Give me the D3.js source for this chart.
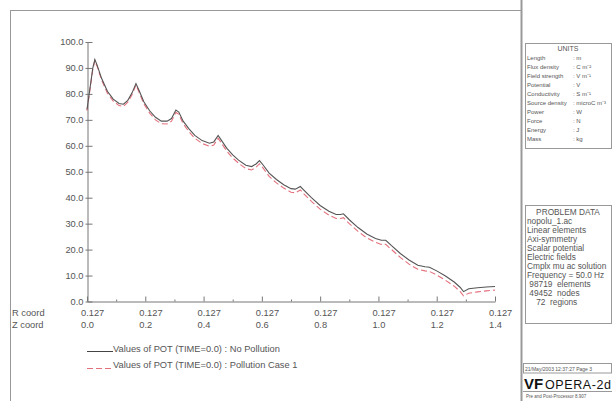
<!DOCTYPE html>
<html lang="en">
<head>
<meta charset="UTF-8">
<title>Values of POT along line</title>
<script src="https://d3js.org/d3.v7.min.js"></script>
<style>
    body { margin: 0; background: #fff; }
    svg { display: block; font-family: "Liberation Sans", Arial, sans-serif; }
    .axis path, .axis line { stroke: #777; }
    .axis text { fill: #555; font-size: 9.3px; }
    .lbl { fill: #555; font-size: 9.3px; }
    .panel { fill: none; stroke: #999; stroke-width: 1; }
    .small { fill: #555; font-size: 6px; }
    .mid { fill: #555; font-size: 8.3px; }
</style>
</head>
<body>
<svg width="612" height="401"></svg>
<script>
    // distance along the line (Z coord), R coord stays 0.127
    const zCoord = [0.000, 0.010, 0.020, 0.027, 0.035, 0.050, 0.070, 0.090, 0.110, 0.125,
        0.140, 0.155, 0.168, 0.178, 0.195, 0.215, 0.235, 0.255, 0.275, 0.290,
        0.305, 0.315, 0.330, 0.350, 0.370, 0.395, 0.420, 0.435, 0.450, 0.462,
        0.480, 0.500, 0.520, 0.545, 0.565, 0.580, 0.592, 0.605, 0.625, 0.650,
        0.675, 0.700, 0.715, 0.732, 0.745, 0.770, 0.800, 0.830, 0.855, 0.870,
        0.880, 0.900, 0.930, 0.960, 0.990, 1.010, 1.025, 1.045, 1.075, 1.105,
        1.135, 1.160, 1.175, 1.200, 1.230, 1.260, 1.280, 1.292, 1.310, 1.340,
        1.370, 1.400];

    const potNoPollution = [74, 82, 90, 93.2, 91, 86, 81, 78, 76.3, 76,
        77.5, 80.5, 84, 81.5, 77, 73.5, 71, 69.5, 69.5, 70.5,
        73.8, 73, 69.5, 66.5, 64, 62, 61, 61.5, 64, 62,
        59, 56.5, 54.5, 52.5, 52, 53, 54.3, 52.5, 49.5, 47,
        45, 43.5, 43.3, 44.3, 42.8, 40, 37, 34.8, 33.5, 33.5,
        33.8, 31.5, 28.5, 26, 24.3, 23.6, 23.6, 21.5, 18.5, 16,
        14, 13.4, 13.2, 11.8, 9.8, 7.5, 5.5, 3.8, 4.9, 5.3,
        5.6, 5.8];

    const potPollution = [73.5, 81.5, 89.6, 92.8, 90.5, 85.4, 80.3, 77.2, 75.5, 75.2,
        76.8, 79.8, 83.4, 80.8, 76.2, 72.6, 70, 68.5, 68.4, 69.5,
        72.9, 72.1, 68.5, 65.4, 62.9, 60.9, 59.8, 60.3, 62.9, 60.9,
        57.9, 55.3, 53.3, 51.2, 50.7, 51.7, 53.1, 51.3, 48.2, 45.7,
        43.7, 42.1, 41.9, 43, 41.4, 38.6, 35.6, 33.3, 32, 32,
        32.3, 30, 27, 24.5, 22.8, 22, 22, 20, 17, 14.4,
        12.4, 11.8, 11.6, 10.2, 8.2, 5.9, 3.9, 2.2, 3.2, 3.7,
        4.1, 4.4];

    const zTicks = [0.0, 0.2, 0.4, 0.6, 0.8, 1.0, 1.2, 1.4];
    const zMinor = [0.1, 0.3, 0.5, 0.7, 0.9, 1.1, 1.3];
    const rLabel = "0.127";
    const legendLabels = ["Values of POT (TIME=0.0) : No Pollution",
                          "Values of POT (TIME=0.0) : Pollution Case 1"];

    const unitNames = ["Length", "Flux density", "Field strength", "Potential", "Conductivity",
        "Source density", "Power", "Force", "Energy", "Mass"];
    const unitValues = [": m", ": C m\u207B\u00B2", ": V m\u207B\u00B9", ": V", ": S m\u207B\u00B9",
        ": microC m\u207B\u00B3", ": W", ": N", ": J", ": kg"];
    const problemLines = ["nopolu_1.ac", "Linear elements", "Axi-symmetry", "Scalar potential",
        "Electric fields", "Cmplx mu ac solution", "Frequency = 50.0 Hz",
        " 98719  elements", " 49452  nodes", "    72  regions"];

    const svg = d3.select("svg");

    // frame
    svg.append("line").attr("x1", 10.5).attr("x2", 10.5).attr("y1", 10).attr("y2", 401)
        .attr("stroke", "#999");
    svg.append("line").attr("x1", 10).attr("x2", 521).attr("y1", 10.5).attr("y2", 10.5)
        .attr("stroke", "#999");
    svg.append("line").attr("x1", 521.5).attr("x2", 521.5).attr("y1", 0).attr("y2", 401)
        .attr("stroke", "#999").attr("stroke-width", 2);

    const x = d3.scaleLinear().domain([0, 1.4]).range([87, 495]);
    const y = d3.scaleLinear().domain([0, 100]).range([301.5, 42]);

    // y axis, ticks pointing into the plot
    const gy = svg.append("g").attr("class", "axis").attr("transform", "translate(87.5,0)")
        .call(d3.axisLeft(y).tickValues(d3.range(0, 101, 10)).tickFormat(d3.format(".1f"))
            .tickSize(-5).tickSizeOuter(0).tickPadding(4));
    gy.selectAll(".tick line").attr("x1", -2);

    // x axis: major + minor ticks
    svg.append("g").attr("class", "axis").attr("transform", "translate(0,301.5)")
        .call(d3.axisBottom(x).tickValues(zTicks).tickSize(-5).tickSizeOuter(0).tickFormat(""));
    svg.append("g").attr("class", "axis").attr("transform", "translate(0,301.5)")
        .call(d3.axisBottom(x).tickValues(zMinor).tickSize(-2).tickSizeOuter(0).tickFormat(""))
        .select(".domain").remove();

    svg.selectAll(".rlab").data(zTicks).join("text").attr("class", "lbl")
        .attr("x", d => x(d) - 6).attr("y", 316).text(rLabel);
    svg.selectAll(".zlab").data(zTicks).join("text").attr("class", "lbl")
        .attr("x", d => x(d) - 6).attr("y", 328).text(d => d3.format(".1f")(d));
    svg.append("text").attr("class", "lbl").attr("x", 12).attr("y", 316).text("R coord");
    svg.append("text").attr("class", "lbl").attr("x", 12).attr("y", 328).text("Z coord");

    // curves
    const line = d3.line().x((d, i) => x(zCoord[i])).y(d => y(d));
    svg.append("path").datum(potPollution).attr("d", line)
        .attr("fill", "none").attr("stroke", "#e4707c").attr("stroke-width", 1.1)
        .attr("stroke-dasharray", "6,3");
    svg.append("path").datum(potNoPollution).attr("d", line)
        .attr("fill", "none").attr("stroke", "#555").attr("stroke-width", 1.1);

    // legend
    const leg = svg.append("g");
    leg.append("line").attr("x1", 87).attr("x2", 113).attr("y1", 351.5).attr("y2", 351.5)
        .attr("stroke", "#444");
    leg.append("line").attr("x1", 87).attr("x2", 113).attr("y1", 368.5).attr("y2", 368.5)
        .attr("stroke", "#e4707c").attr("stroke-dasharray", "6,3");
    leg.selectAll("text").data(legendLabels).join("text").attr("class", "lbl")
        .attr("x", 113).attr("y", (d, i) => 352 + i * 16).text(d => d);

    // UNITS panel
    svg.append("rect").attr("class", "panel").attr("x", 525.5).attr("y", 43.5)
        .attr("width", 86).attr("height", 105);
    svg.append("text").attr("class", "small").attr("x", 568).attr("y", 51)
        .attr("text-anchor", "middle").style("font-size", "7px").text("UNITS");
    svg.selectAll(".uname").data(unitNames).join("text").attr("class", "small")
        .attr("x", 527).attr("y", (d, i) => 60 + i * 9).text(d => d);
    svg.selectAll(".uval").data(unitValues).join("text").attr("class", "small")
        .attr("x", 573).attr("y", (d, i) => 60 + i * 9).text(d => d);

    // PROBLEM DATA panel
    svg.append("rect").attr("class", "panel").attr("x", 525.5).attr("y", 205.5)
        .attr("width", 86).attr("height", 118);
    svg.append("text").attr("class", "mid").attr("x", 568).attr("y", 215)
        .attr("text-anchor", "middle").text("PROBLEM DATA");
    svg.selectAll(".pline").data(problemLines).join("text").attr("class", "mid")
        .attr("x", 527).attr("y", (d, i) => 224 + i * 9).style("white-space", "pre")
        .attr("xml:space", "preserve").text(d => d);

    // footer
    svg.append("rect").attr("class", "panel").attr("x", 523.5).attr("y", 363.5)
        .attr("width", 88).attr("height", 9.5);
    svg.append("text").attr("class", "small").attr("x", 525).attr("y", 370.5)
        .style("font-size", "5px").text("21/May/2003 12:37:27 Page 3");
    svg.append("line").attr("x1", 523).attr("x2", 612).attr("y1", 391.5).attr("y2", 391.5)
        .attr("stroke", "#999");
    svg.append("text").attr("x", 524).attr("y", 389).attr("fill", "#111")
        .style("font-size", "15px").style("font-weight", "bold").text("VF");
    svg.append("text").attr("x", 545).attr("y", 389).attr("fill", "#111")
        .style("font-size", "12.5px").attr("textLength", 66).text("OPERA-2d");
    svg.append("text").attr("class", "small").attr("x", 526).attr("y", 398)
        .style("font-size", "4.5px").text("Pre and Post-Processor 8.907");
</script>
</body>
</html>
